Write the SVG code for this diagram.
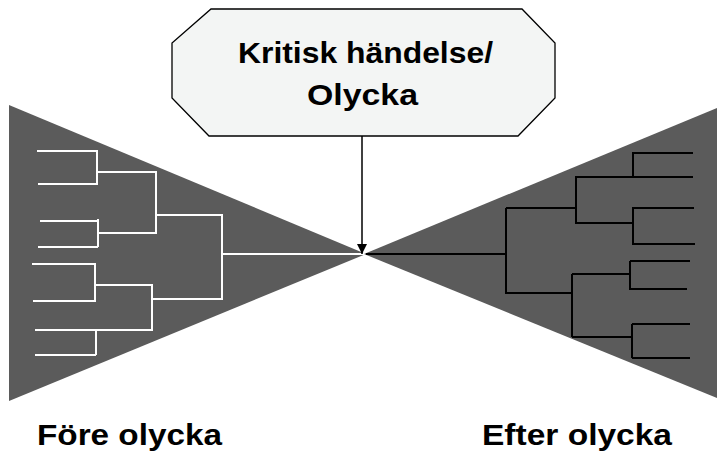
<svg xmlns="http://www.w3.org/2000/svg" width="717" height="454" viewBox="0 0 717 454">
<style>
.tri{fill:#5b5b5b;stroke:none}
.wt{stroke:#ffffff;stroke-width:2;fill:none}
.bt{stroke:#000000;stroke-width:2;fill:none}
.lbl{font-family:"Liberation Sans",Arial,sans-serif;font-weight:bold;fill:#000}
.oct{fill:#f3f5f4;stroke:#000;stroke-width:1.3}
</style>
<defs>
<marker id="ah" viewBox="0 0 10 10" refX="10" refY="5" markerWidth="10" markerHeight="10" markerUnits="userSpaceOnUse" orient="auto">
<path d="M0,0 L10,5 L0,10 z" fill="#000"/>
</marker>
</defs>
<rect width="717" height="454" fill="#fff"/>
<g id="before">
<polygon class="tri" points="9,105 9,401 366,254"/>
<path class="wt" d="M37,151H97M38,184H97M97,150V185M97,172H157M40,221H98M38,247H98M98,219V247M98,233H157M156,171V234M156,215H223M32,264H96M33,301H96M95,264V301M95,285H152M35,330H152M152,284V331M96,330V355M35,355H96M152,299H223M222,214V300M222,254H365"/>
</g>
<g id="after">
<polygon class="tri" points="717,108 717,398 364,254"/>
<path class="bt" d="M366,254H506M506,208V294M506,208H576M576,176V224M576,177H693M633,152V178M633,153H693M576,223H634M633,207V245M633,208H694M633,244H695M506,293H572M572,274V337M572,274H631M630,261V290M630,261H690M630,289H687M572,337H632M632,324V358M632,324H690M632,358H690"/>
</g>
<g id="event">
<polygon class="oct" points="211,9 522,9 555,43 555,98 518,136 209,136 172,98 172,43"/>
<text class="lbl" x="365.5" y="63" font-size="30" text-anchor="middle" textLength="255" lengthAdjust="spacingAndGlyphs">Kritisk händelse/</text>
<text class="lbl" x="362.5" y="105" font-size="30" text-anchor="middle" textLength="111" lengthAdjust="spacingAndGlyphs">Olycka</text>
</g>
<g id="connectors">
<line x1="362" y1="136" x2="362" y2="254" stroke="#000" stroke-width="1.5" marker-end="url(#ah)"/>
</g>
<g id="labels">
<text class="lbl" x="37" y="445" font-size="30" textLength="185" lengthAdjust="spacingAndGlyphs">Före olycka</text>
<text class="lbl" x="482" y="445" font-size="30" textLength="190" lengthAdjust="spacingAndGlyphs">Efter olycka</text>
</g>
</svg>
